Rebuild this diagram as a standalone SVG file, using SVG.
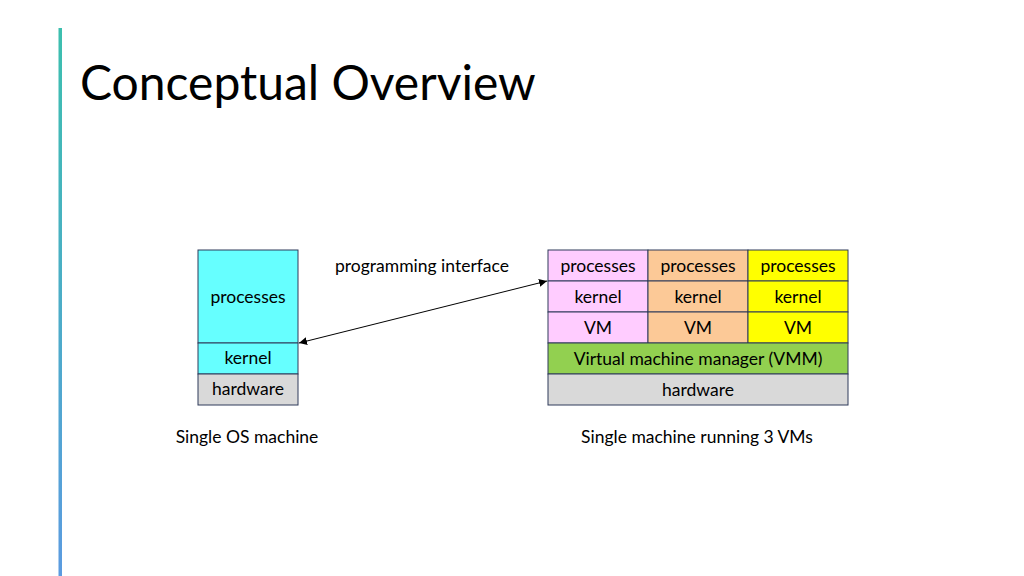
<svg xmlns="http://www.w3.org/2000/svg" width="1024" height="576" viewBox="0 0 1024 576">
<defs>
<linearGradient id="bar" x1="0" y1="0" x2="0" y2="1">
<stop offset="0" stop-color="#3cbfae"/>
<stop offset="1" stop-color="#5b9be0"/>
</linearGradient>
<marker id="ah" viewBox="0 0 10 10" refX="10" refY="5" markerWidth="8" markerHeight="8" orient="auto-start-reverse" markerUnits="userSpaceOnUse">
<path d="M0,0 L10,5 L0,10 z" fill="#000"/>
</marker>
<style>
text{font-family:Lato,"Liberation Sans",sans-serif;fill:#000}
.t{font-size:17.5px;text-anchor:middle}
.b{stroke:#2e3a5a;stroke-width:1}
</style>
</defs>
<rect width="1024" height="576" fill="#fff"/>
<rect x="58.5" y="28" width="3.5" height="548" fill="url(#bar)"/>
<text x="80" y="100" font-size="48">Conceptual Overview</text>

<g id="single-os">
<rect class="b" x="198" y="250" width="100" height="93" fill="#66ffff"/>
<text class="t" x="248" y="303">processes</text>
<rect class="b" x="198" y="343" width="100" height="31" fill="#66ffff"/>
<text class="t" x="248" y="364">kernel</text>
<rect class="b" x="198" y="374" width="100" height="31" fill="#d9d9d9"/>
<text class="t" x="248" y="395">hardware</text>
</g>

<g id="vm1">
<rect class="b" x="548" y="250" width="100" height="31" fill="#ffccff"/>
<text class="t" x="598" y="272">processes</text>
<rect class="b" x="548" y="281" width="100" height="31" fill="#ffccff"/>
<text class="t" x="598" y="303">kernel</text>
<rect class="b" x="548" y="312" width="100" height="31" fill="#ffccff"/>
<text class="t" x="598" y="334">VM</text>
</g>
<g id="vm2">
<rect class="b" x="648" y="250" width="100" height="31" fill="#fcc997"/>
<text class="t" x="698" y="272">processes</text>
<rect class="b" x="648" y="281" width="100" height="31" fill="#fcc997"/>
<text class="t" x="698" y="303">kernel</text>
<rect class="b" x="648" y="312" width="100" height="31" fill="#fcc997"/>
<text class="t" x="698" y="334">VM</text>
</g>
<g id="vm3">
<rect class="b" x="748" y="250" width="100" height="31" fill="#ffff00"/>
<text class="t" x="798" y="272">processes</text>
<rect class="b" x="748" y="281" width="100" height="31" fill="#ffff00"/>
<text class="t" x="798" y="303">kernel</text>
<rect class="b" x="748" y="312" width="100" height="31" fill="#ffff00"/>
<text class="t" x="798" y="334">VM</text>
</g>
<g id="vmm">
<rect class="b" x="548" y="343" width="300" height="31" fill="#92d050"/>
<text class="t" x="698" y="365">Virtual machine manager (VMM)</text>
</g>
<g id="hw">
<rect class="b" x="548" y="374" width="300" height="31" fill="#d9d9d9"/>
<text class="t" x="698" y="396">hardware</text>
</g>

<g id="connectors">
<line x1="299" y1="343" x2="547" y2="281" stroke="#000" stroke-width="1" marker-start="url(#ah)" marker-end="url(#ah)"/>
</g>
<text class="t" x="422" y="272">programming interface</text>
<text class="t" x="247" y="443">Single OS machine</text>
<text class="t" x="697" y="443">Single machine running 3 VMs</text>
</svg>
